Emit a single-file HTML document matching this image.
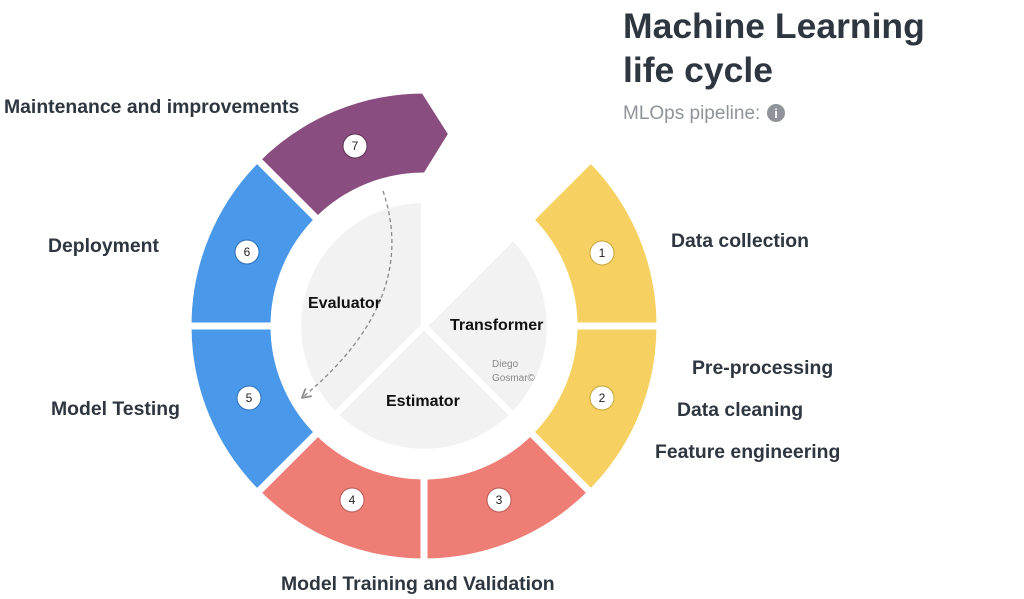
<!DOCTYPE html>
<html><head><meta charset="utf-8"><style>
body{margin:0;width:1024px;height:599px;background:#fff;overflow:hidden;font-family:"Liberation Sans",sans-serif}
svg{position:absolute;left:0;top:0}
</style></head><body>
<svg width="1024" height="599" viewBox="0 0 1024 599">
<defs><marker id="ah" markerWidth="8" markerHeight="8" refX="6" refY="4" orient="auto"><path d="M0,0 L7,4 L0,8" fill="none" stroke="#888" stroke-width="1.3"/></marker></defs>
<g stroke="#fff" stroke-width="7" stroke-linejoin="miter">
<path fill="#f6d061" d="M660,326 A236,236 0 0 0 590.9,159.1 L530.1,219.9 A150,150 0 0 1 574,326 Z"/>
<path fill="#f6d061" d="M660,326 A236,236 0 0 1 590.9,492.9 L530.1,432.1 A150,150 0 0 0 574,326 Z"/>
<path fill="#ee7d75" d="M590.9,492.9 A236,236 0 0 1 424,562 L424,476 A150,150 0 0 0 530.1,432.1 Z"/>
<path fill="#ee7d75" d="M424,562 A236,236 0 0 1 257.1,492.9 L317.9,432.1 A150,150 0 0 0 424,476 Z"/>
<path fill="#4a98ea" d="M257.1,492.9 A236,236 0 0 1 188,326 L274,326 A150,150 0 0 0 317.9,432.1 Z"/>
<path fill="#4a98ea" d="M188,326 A236,236 0 0 1 257.1,159.1 L317.9,219.9 A150,150 0 0 0 274,326 Z"/>
<path fill="#8a4d80" d="M257.1,159.1 A236,236 0 0 1 424,90 L452,134 L426,176 A150,150 0 0 0 317.9,219.9 Z"/>
<path fill="#f2f2f2" stroke-width="6" d="M424,326 L424,200 A126,126 0 0 0 335,415 Z"/>
<path fill="#f2f2f2" stroke-width="6" d="M424,326 L513,237 A126,126 0 0 1 513,415 Z"/>
<path fill="#f2f2f2" stroke-width="6" d="M424,326 L513,415 A126,126 0 0 1 335,415 Z"/>
</g>
<path d="M383,191 Q420,300 303,397" fill="none" stroke="#888" stroke-width="1.3" stroke-dasharray="4,3" marker-end="url(#ah)"/>
<g font-size="12" text-anchor="middle" fill="#222">
<circle cx="602" cy="253" r="12" fill="#fff" stroke="#c9a43a"/><text x="602" y="257">1</text>
<circle cx="602" cy="398" r="12" fill="#fff" stroke="#c9a43a"/><text x="602" y="402">2</text>
<circle cx="499" cy="500" r="12" fill="#fff" stroke="#b85a55"/><text x="499" y="504">3</text>
<circle cx="352" cy="500" r="12" fill="#fff" stroke="#b85a55"/><text x="352" y="504">4</text>
<circle cx="249" cy="398" r="12" fill="#fff" stroke="#2f6fb5"/><text x="249" y="402">5</text>
<circle cx="247" cy="252" r="12" fill="#fff" stroke="#2f6fb5"/><text x="247" y="256">6</text>
<circle cx="355" cy="146" r="12" fill="#fff" stroke="#5d2f55"/><text x="355" y="150">7</text>
</g>
<g font-weight="bold" font-size="16" fill="#111">
<text x="308" y="308">Evaluator</text>
<text x="450" y="330">Transformer</text>
<text x="386" y="406">Estimator</text>
</g>
<text x="492" y="367" font-size="10" fill="#888">Diego</text>
<text x="492" y="381" font-size="10" fill="#888">Gosmar©</text>
<g font-weight="bold" font-size="19.4" fill="#2e3640">
<text x="4" y="113">Maintenance and improvements</text>
<text x="48" y="252">Deployment</text>
<text x="51" y="415">Model Testing</text>
<text x="281" y="590">Model Training and Validation</text>
<text x="671" y="247">Data collection</text>
<text x="692" y="374">Pre-processing</text>
<text x="677" y="416">Data cleaning</text>
<text x="655" y="458">Feature engineering</text>
</g>
<g font-weight="bold" font-size="35.5" fill="#2e3640">
<text x="623" y="38">Machine Learning</text>
<text x="623" y="82">life cycle</text>
</g>
<text x="623" y="119" font-size="19" fill="#8e949a">MLOps pipeline:</text>
<circle cx="776" cy="113" r="9" fill="#8e949a"/>
<text x="776" y="118" font-size="13" font-weight="bold" text-anchor="middle" fill="#fff">i</text>
</svg>
</body></html>
